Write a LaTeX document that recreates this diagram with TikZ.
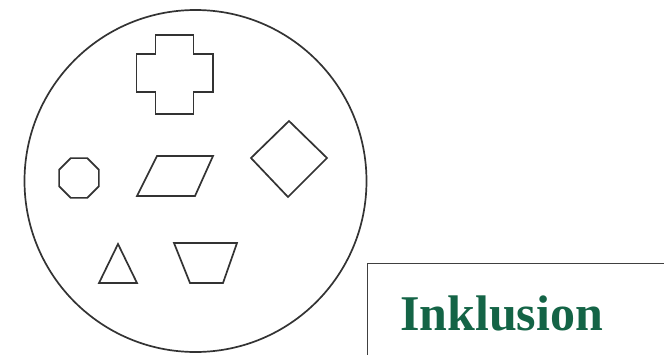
\documentclass[tikz,border=0pt]{standalone}
\usepackage{fontspec}
\setmainfont{Liberation Serif}
\definecolor{incl}{RGB}{20,100,70}
\tikzset{
  shapeline/.style={draw=black!80, line width=1.7pt, line join=miter},
  boxline/.style={draw=black!75, line width=1.8pt},
}
\begin{document}
\begin{tikzpicture}[x=1pt,y=-1pt]
\useasboundingbox (0,0) rectangle (664,354);
\clip (0,0) rectangle (664,354);
% big circle
\draw[shapeline] (195.5,181) circle[radius=171];
% cross
\draw[shapeline] (155.5,35) -- (193.5,35) -- (193.5,54) -- (213,54) -- (213,92) -- (193.5,92) -- (193.5,114) -- (155.5,114) -- (155.5,92) -- (136.5,92) -- (136.5,54) -- (155.5,54) -- cycle;
% octagon
\draw[shapeline] (79,178) +(22.5:21.5) -- +(67.5:21.5) -- +(112.5:21.5) -- +(157.5:21.5) -- +(202.5:21.5) -- +(247.5:21.5) -- +(292.5:21.5) -- +(337.5:21.5) -- cycle;
% parallelogram
\draw[shapeline] (157,156) -- (213,156) -- (195,196) -- (137,196) -- cycle;
% diamond
\draw[shapeline] (289,121) -- (327,158) -- (288,197) -- (251,158) -- cycle;
% triangle
\draw[shapeline] (118,244) -- (137,283) -- (99,283) -- cycle;
% trapezoid
\draw[shapeline] (174,243) -- (237,243) -- (223,283) -- (190,283) -- cycle;
% box
\draw[boxline] (367.5,400) -- (367.5,263.5) -- (700,263.5);
\node[anchor=base west, inner sep=0pt, text=incl, font=\fontsize{50}{50}\selectfont\bfseries] (lab) at (400,330) {Inklusion};
\end{tikzpicture}
\end{document}
